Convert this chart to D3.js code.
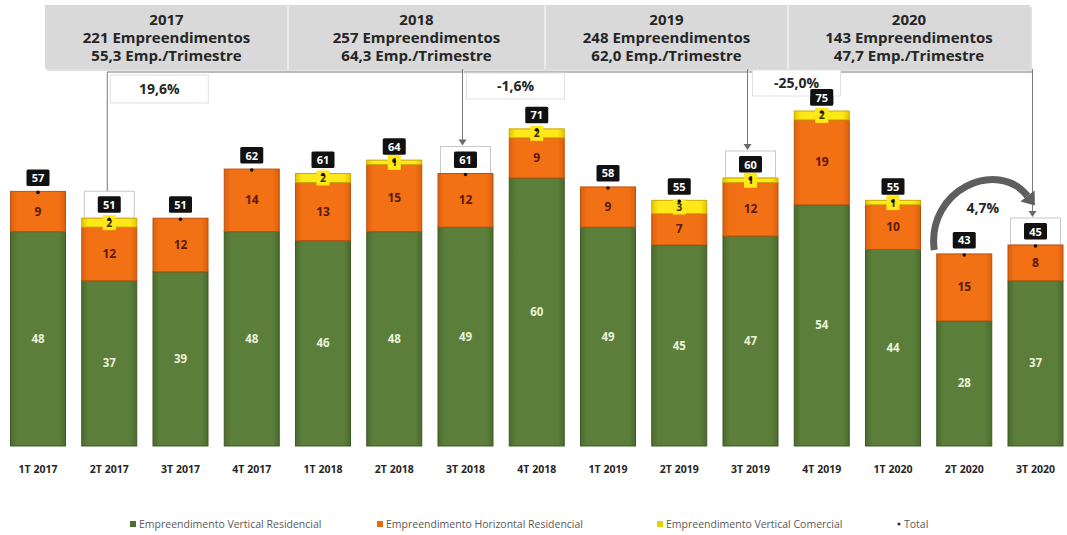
<!DOCTYPE html>
<html>
<head>
<meta charset="utf-8">
<script src="https://cdn.jsdelivr.net/npm/d3@7/dist/d3.min.js"></script>
<style>
  html, body { margin: 0; padding: 0; background: #fff; }
  svg { display: block; font-family: "Open Sans", "Liberation Sans", sans-serif; }
</style>
</head>
<body>
<svg id="chart" width="1067" height="535"></svg>
<script>
// Quarterly launches by segment
const categories = ["1T 2017","2T 2017","3T 2017","4T 2017","1T 2018","2T 2018","3T 2018","4T 2018",
                    "1T 2019","2T 2019","3T 2019","4T 2019","1T 2020","2T 2020","3T 2020"];
const verticalResidencial   = [48,37,39,48,46,48,49,60,49,45,47,54,44,28,37];
const horizontalResidencial = [9,12,12,14,13,15,12,9,9,7,12,19,10,15,8];
const verticalComercial     = [0,2,0,0,2,1,0,2,0,3,1,2,1,0,0];
const totals                = [57,51,51,62,61,64,61,71,58,55,60,75,55,43,45];

// Yearly summary header
const years       = ["2017","2018","2019","2020"];
const yearTotals  = [221,257,248,143];
const yearAverage = ["55,3","64,3","62,0","47,7"];

// Period-over-period comparisons
const compareFrom   = ["2T 2017","3T 2018","3T 2019","2T 2020"];
const compareTo     = ["3T 2018","3T 2019","3T 2020","3T 2020"];
const compareLabels = ["19,6%","-1,6%","-25,0%","4,7%"];
const highlighted   = ["2T 2017","3T 2018","3T 2019","3T 2020"];

const seriesNames = ["Empreendimento Vertical Residencial","Empreendimento Horizontal Residencial",
                     "Empreendimento Vertical Comercial","Total"];

const svg = d3.select("#chart");

const x = d3.scaleBand().domain(categories).range([10.5, 1063]).paddingInner(0.228).paddingOuter(0);
const y = d3.scaleLinear().domain([0, 75]).range([446, 111]);

const rows = categories.map((c, i) => ({
  cat: c, vr: verticalResidencial[i], hr: horizontalResidencial[i], vc: verticalComercial[i], total: totals[i]
}));
const keys = ["vr","hr","vc"];
const stacked = d3.stack().keys(keys)(rows);

// gradients for a soft bevelled look
const defs = svg.append("defs");
const palette = {
  vr: {edge: "#4a6b2c", mid: "#5c7e3b", stroke: "#3e5a24"},
  hr: {edge: "#dc600c", mid: "#f27115", stroke: "#b9520e"},
  vc: {edge: "#e6c400", mid: "#ffe817", stroke: "#c9a800"}
};
keys.forEach(k => {
  const g = defs.append("linearGradient").attr("id", "g_" + k).attr("x1", "0").attr("x2", "1");
  g.append("stop").attr("offset", "0").attr("stop-color", palette[k].edge);
  g.append("stop").attr("offset", "0.12").attr("stop-color", palette[k].mid);
  g.append("stop").attr("offset", "0.88").attr("stop-color", palette[k].mid);
  g.append("stop").attr("offset", "1").attr("stop-color", palette[k].edge);
});

// Header band
const headerEdges = [45, 288, 545, 788, 1030];
const header = svg.append("g");
header.append("rect").attr("x", headerEdges[0] + 2).attr("y", 7).attr("width", headerEdges[4] - headerEdges[0])
  .attr("height", 64).attr("fill", "#bfbfbf").attr("opacity", 0.5);
header.append("rect").attr("x", headerEdges[0]).attr("y", 5).attr("width", headerEdges[4] - headerEdges[0])
  .attr("height", 64).attr("fill", "#d9d9d9");
years.forEach((yr, i) => {
  if (i > 0) header.append("line").attr("x1", headerEdges[i]).attr("x2", headerEdges[i])
    .attr("y1", 5).attr("y2", 69).attr("stroke", "#f2f2f2").attr("stroke-width", 1.5);
  const hx = (headerEdges[i] + headerEdges[i + 1]) / 2;
  const t = header.append("text").attr("text-anchor", "middle").attr("fill", "#262626")
    .attr("font-weight", 700).attr("font-size", 15);
  t.append("tspan").attr("x", hx).attr("y", 25).text(yr);
  t.append("tspan").attr("x", hx).attr("y", 43).text(yearTotals[i] + " Empreendimentos");
  t.append("tspan").attr("x", hx).attr("y", 61).text(yearAverage[i] + " Emp./Trimestre");
});

// Highlight boxes around selected totals
const cx = c => x(c) + x.bandwidth() / 2;
const totalOf = c => totals[categories.indexOf(c)];
const boxTop = c => y(totalOf(c)) - 27;
svg.append("g").selectAll("rect").data(highlighted).join("rect")
  .attr("x", c => cx(c) - 25).attr("y", boxTop).attr("width", 50)
  .attr("height", c => y(totalOf(c)) - boxTop(c)).attr("fill", "#fff")
  .attr("stroke", "#c8c8c8").attr("stroke-width", 1);

// Bars
const barG = svg.append("g");
stacked.forEach(layer => {
  barG.append("g").selectAll("rect").data(layer.filter(d => d[1] > d[0])).join("rect")
    .attr("x", d => x(d.data.cat)).attr("width", x.bandwidth())
    .attr("y", d => y(d[1])).attr("height", d => y(d[0]) - y(d[1]))
    .attr("fill", "url(#g_" + layer.key + ")")
    .attr("stroke", palette[layer.key].stroke).attr("stroke-width", 1);
});

// Segment labels
const green = stacked[0], orange = stacked[1], yellow = stacked[2];
svg.append("g").selectAll("text").data(green).join("text")
  .attr("x", d => cx(d.data.cat)).attr("y", d => (y(d[0]) + y(d[1])) / 2 + 4)
  .attr("text-anchor", "middle").attr("font-size", 11.5).attr("font-weight", 700).attr("fill", "#e9f1da")
  .text(d => d[1] - d[0]);
svg.append("g").selectAll("text").data(orange).join("text")
  .attr("x", d => cx(d.data.cat)).attr("y", d => (y(d[0]) + y(d[1])) / 2 + 4)
  .attr("text-anchor", "middle").attr("font-size", 12).attr("font-weight", 700).attr("fill", "#5a1a05")
  .text(d => d[1] - d[0]);
const yl = svg.append("g").selectAll("g").data(yellow.filter(d => d[1] > d[0])).join("g")
  .attr("transform", d => `translate(${cx(d.data.cat)},${(y(d[0]) + y(d[1])) / 2})`);
yl.append("rect").attr("x", -6.5).attr("y", -7.5).attr("width", 13).attr("height", 15).attr("fill", "#ffe817");
yl.append("text").attr("y", 4).attr("text-anchor", "middle").attr("font-size", 10.5)
  .attr("font-weight", 700).attr("fill", "#3a3000").text(d => d[1] - d[0]);

// Total markers and labels
const tg = svg.append("g").selectAll("g").data(rows).join("g")
  .attr("transform", d => `translate(${cx(d.cat)},${y(d.total)})`);
tg.append("circle").attr("r", 1.8).attr("cy", 1).attr("fill", "#111");
tg.append("rect").attr("x", -11.5).attr("y", -22).attr("width", 23).attr("height", 16.5).attr("rx", 1.5).attr("fill", "#111");
tg.append("text").attr("y", -9.5).attr("text-anchor", "middle").attr("font-size", 11)
  .attr("font-weight", 700).attr("fill", "#fff").text(d => d.total);

// Comparison brackets
const conn = svg.append("g").attr("stroke", "#7a7a7a").attr("stroke-width", 1).attr("fill", "none");
const arrowHead = (g, xx, yy) => g.append("path").attr("d", `M${xx - 4},${yy - 6}L${xx + 4},${yy - 6}L${xx},${yy}Z`)
  .attr("fill", "#6a6a6a").attr("stroke", "none");
const lineY = 72;
const labelBoxes = [
  {dx: 3, w: 98, y0: 75, y1: 103},
  {dx: 3, w: 98, y0: 73, y1: 99},
  {dx: 4, w: 88, y0: 70, y1: 96}
];
for (let i = 0; i < 3; i++) {
  const x0 = cx(compareFrom[i]) - 2, x1 = cx(compareTo[i]) - 3;
  if (i === 0) conn.append("line").attr("x1", x0).attr("x2", x0).attr("y1", lineY).attr("y2", boxTop(compareFrom[i]));
  conn.append("line").attr("x1", x0).attr("x2", x1).attr("y1", lineY).attr("y2", lineY);
  conn.append("line").attr("x1", x1).attr("x2", x1).attr("y1", 69).attr("y2", boxTop(compareTo[i]) - 2);
  arrowHead(svg, x1, boxTop(compareTo[i]) - 1);
  const b = labelBoxes[i];
  svg.append("rect").attr("x", x0 + b.dx).attr("y", b.y0).attr("width", b.w).attr("height", b.y1 - b.y0)
    .attr("fill", "#fff").attr("stroke", "#e0e0e0");
  svg.append("text").attr("x", x0 + b.dx + b.w / 2).attr("y", (b.y0 + b.y1) / 2 + 5)
    .attr("text-anchor", "middle").attr("font-size", 14).attr("font-weight", 700).attr("fill", "#262626")
    .text(compareLabels[i]);
}
// 4T 2019 total drawn again so it sits above the -25,0% box
{
  const c = "4T 2019", v = totalOf(c);
  const g = svg.append("g").attr("transform", `translate(${cx(c)},${y(v)})`);
  g.append("rect").attr("x", -11.5).attr("y", -22).attr("width", 23).attr("height", 16.5).attr("rx", 1.5).attr("fill", "#111");
  g.append("text").attr("y", -9.5).attr("text-anchor", "middle").attr("font-size", 11)
    .attr("font-weight", 700).attr("fill", "#fff").text(v);
}

// Curved arrow for the last quarter-over-quarter change
{
  const sx = cx(compareFrom[3]) - 30, sy = y(totalOf(compareFrom[3])) - 4;
  const ex = cx(compareTo[3]) - 8, ey = boxTop(compareTo[3]) - 22;
  const c1 = [sx - 8, sy - 60], c2 = [ex - 30, ey - 38];
  svg.append("path").attr("d", `M${sx},${sy}C${c1[0]},${c1[1]} ${c2[0]},${c2[1]} ${ex},${ey}`)
    .attr("fill", "none").attr("stroke", "#5e5e5e").attr("stroke-width", 7);
  const dx = ex - c2[0], dy = ey - c2[1], L = Math.hypot(dx, dy), ux = dx / L, uy = dy / L;
  const tip = [ex + ux * 12, ey + uy * 12], px = -uy, py = ux;
  svg.append("path").attr("d", `M${tip[0]},${tip[1]}L${ex + px * 9},${ey + py * 9}L${ex - px * 9},${ey - py * 9}Z`)
    .attr("fill", "#5e5e5e");
  svg.append("text").attr("x", (sx + ex) / 2 + 2).attr("y", 213).attr("text-anchor", "middle")
    .attr("font-size", 14).attr("font-weight", 700).attr("fill", "#262626").text(compareLabels[3]);
}

// Category axis
const xAxis = svg.append("g").attr("transform", "translate(0,446)")
  .call(d3.axisBottom(x).tickSize(0).tickPadding(20));
xAxis.select(".domain").remove();
xAxis.selectAll("text").attr("font-size", 10.5).attr("font-weight", 700).attr("fill", "#262626")
  .attr("font-family", "\"Open Sans\", sans-serif");

// Legend
const legendX = [130, 377, 657, 897];
const legendColors = ["#4f7030", "#e8690f", "#e6d000", "#111"];
const lg = svg.append("g").selectAll("g").data(seriesNames).join("g")
  .attr("transform", (d, i) => `translate(${legendX[i]},524)`);
lg.filter((d, i) => i < 3).append("rect").attr("x", 0).attr("y", -3).attr("width", 6).attr("height", 6)
  .attr("fill", (d, i) => legendColors[i]);
lg.filter((d, i) => i === 3).append("circle").attr("cx", 2).attr("cy", 0).attr("r", 1.6).attr("fill", "#333");
lg.append("text").attr("x", (d, i) => i === 3 ? 7 : 9).attr("y", 4).attr("font-size", 10.5)
  .attr("fill", "#595959").text(d => d);
</script>
</body>
</html>
